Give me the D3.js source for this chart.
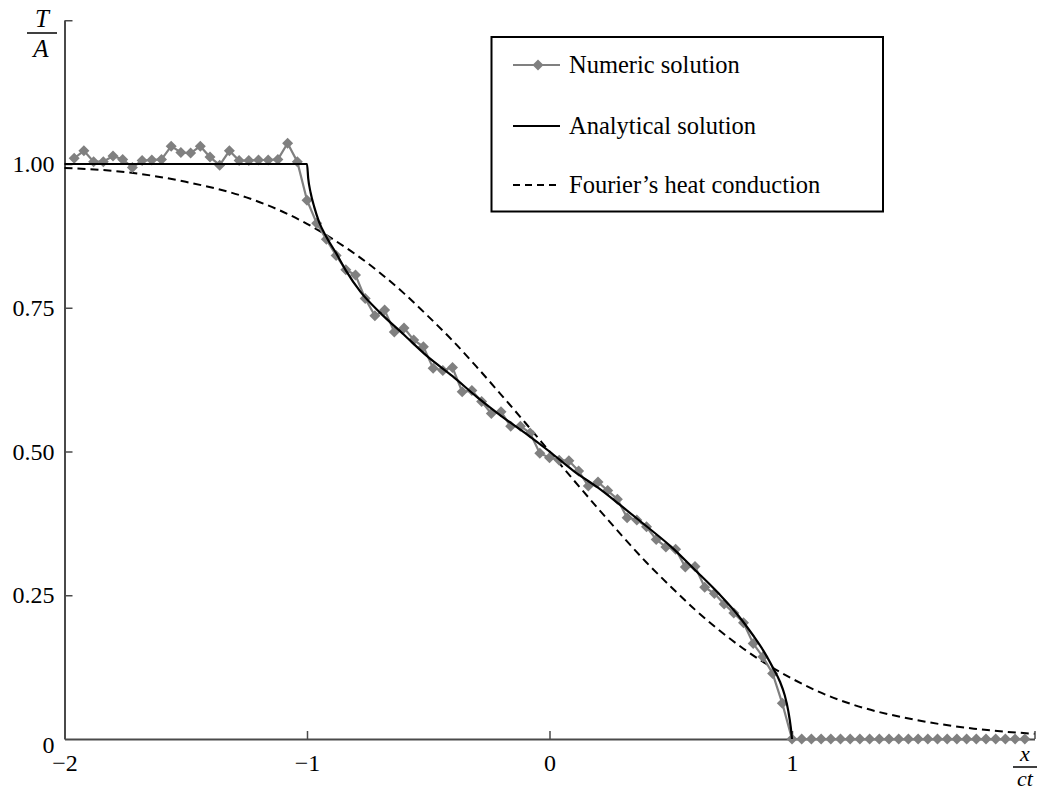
<!DOCTYPE html>
<html>
<head>
<meta charset="utf-8">
<script src="https://cdn.jsdelivr.net/npm/d3@7/dist/d3.min.js"></script>
<style>
  html, body { margin: 0; padding: 0; background: #fff; }
  svg { display: block; }
  text { font-family: "Liberation Serif", "Times New Roman", serif; fill: #000; }
</style>
</head>
<body>
<svg id="chart" width="1039" height="791"></svg>
<script>
// ---------- DATA ----------
const numericX = [
  -1.96,-1.92,-1.88,-1.84,-1.80,-1.76,-1.72,-1.68,-1.64,-1.60,
  -1.56,-1.52,-1.48,-1.44,-1.40,-1.36,-1.32,-1.28,-1.24,-1.20,
  -1.16,-1.12,-1.08,-1.04,-1.00,-0.96,-0.92,-0.88,-0.84,-0.80,
  -0.76,-0.72,-0.68,-0.64,-0.60,-0.56,-0.52,-0.48,-0.44,-0.40,
  -0.36,-0.32,-0.28,-0.24,-0.20,-0.16,-0.12,-0.08,-0.04,0.00,
  0.04,0.08,0.12,0.16,0.20,0.24,0.28,0.32,0.36,0.40,
  0.44,0.48,0.52,0.56,0.60,0.64,0.68,0.72,0.76,0.80,
  0.84,0.88,0.92,0.96,1.00,1.04,1.08,1.12,1.16,1.20,
  1.24,1.28,1.32,1.36,1.40,1.44,1.48,1.52,1.56,1.60,
  1.64,1.68,1.72,1.76,1.80,1.84,1.88,1.92,1.96
];
const numericY = [
  1.010,1.023,1.004,1.004,1.014,1.008,0.994,1.006,1.007,1.008,
  1.031,1.020,1.019,1.031,1.012,0.998,1.023,1.006,1.006,1.007,
  1.007,1.008,1.036,1.004,0.937,0.897,0.869,0.841,0.816,0.807,
  0.766,0.736,0.746,0.708,0.715,0.694,0.682,0.645,0.641,0.646,
  0.604,0.606,0.587,0.566,0.569,0.544,0.544,0.532,0.497,0.489,
  0.485,0.484,0.466,0.440,0.447,0.432,0.417,0.385,0.381,0.369,
  0.347,0.334,0.330,0.299,0.300,0.264,0.253,0.235,0.219,0.202,
  0.166,0.143,0.114,0.062,0.000,0.000,0.000,0.000,0.000,0.000,
  0.000,0.000,0.000,0.000,0.000,0.000,0.000,0.000,0.000,0.000,
  0.000,0.000,0.000,0.000,0.000,0.000,0.000,0.000,0.000
];
const analyticX = [-2.0,-1.0,-0.995,-0.985,-0.97,-0.95,-0.92,-0.88,-0.84,-0.78,-0.70,-0.60,-0.50,-0.40,-0.30,-0.20,-0.10,0.00,
  0.10,0.20,0.30,0.40,0.50,0.60,0.70,0.78,0.84,0.88,0.92,0.95,0.97,0.985,0.995,1.00];
const analyticY = [1.000,1.000,0.975,0.950,0.925,0.899,0.873,0.845,0.815,0.778,0.742,0.703,0.664,0.631,0.595,0.562,0.532,0.500,
  0.466,0.437,0.404,0.370,0.335,0.294,0.252,0.214,0.180,0.155,0.125,0.100,0.076,0.048,0.020,0.000];
const fourierX = [-2.0,-1.75,-1.5,-1.25,-1.1,-1.0,-0.9,-0.8,-0.7,-0.6,-0.5,-0.4,-0.3,-0.2,-0.1,0.0,
  0.1,0.2,0.3,0.4,0.5,0.6,0.7,0.8,0.9,1.0,1.1,1.25,1.5,1.75,2.0];
const fourierY = [0.993,0.986,0.969,0.942,0.917,0.896,0.871,0.843,0.811,0.775,0.735,0.693,0.647,0.599,0.550,0.500,
  0.450,0.401,0.353,0.307,0.265,0.225,0.189,0.157,0.129,0.105,0.084,0.060,0.034,0.018,0.009];

const xTicks = [-2, -1, 0, 1, 2];
const xTickLabels = ["\u22122", "\u22121", "0", "1", ""];
const yTicks = [0, 0.25, 0.5, 0.75, 1.0, 1.25];
const yTickLabels = ["0", "0.25", "0.50", "0.75", "1.00", ""];
const legendLabels = ["Numeric solution", "Analytical solution", "Fourier\u2019s heat conduction"];

// ---------- CHART ----------
const svg = d3.select("#chart");
const x = d3.scaleLinear().domain([-2, 2]).range([64.5, 1034.5]);
const y = d3.scaleLinear().domain([0, 1.25]).range([739, 20.25]);
const axisColor = "#4a4a4a";

// axes
const gx = svg.append("g").attr("transform", `translate(0,${y(0)})`)
  .call(d3.axisBottom(x).tickValues(xTicks).tickSizeInner(-8).tickSizeOuter(0).tickPadding(15)
    .tickFormat((d, i) => xTickLabels[i]));
const gy = svg.append("g").attr("transform", `translate(${x(-2)},0)`)
  .call(d3.axisLeft(y).tickValues(yTicks).tickSizeInner(-8).tickSizeOuter(0).tickPadding(10)
    .tickFormat((d, i) => yTickLabels[i]));
[gx, gy].forEach(g => {
  g.select(".domain").attr("stroke", axisColor).attr("stroke-width", 2);
  g.selectAll(".tick line").attr("stroke", axisColor).attr("stroke-width", 1.5);
  g.selectAll(".tick text").attr("font-family", "Liberation Serif, serif").attr("font-size", 24).attr("fill", "#000");
});
gy.selectAll(".tick").filter(d => d === 0).select("text").attr("dy", "0.55em");
gy.selectAll(".tick").filter(d => d === 0).select("line").remove();
gx.selectAll(".tick").filter(d => d === -2).select("line").remove();

// curves
const fourier = fourierX.map((v, i) => [v, fourierY[i]]);
const numeric = numericX.map((v, i) => [v, numericY[i]]);
const analytic = analyticX.map((v, i) => [v, analyticY[i]]);

svg.append("path").datum(fourier)
  .attr("d", d3.line().x(d => x(d[0])).y(d => y(d[1])).curve(d3.curveMonotoneX))
  .attr("fill", "none").attr("stroke", "#000").attr("stroke-width", 2).attr("stroke-dasharray", "8,5");

svg.append("path").datum(numeric).attr("d", d3.line().x(d => x(d[0])).y(d => y(d[1])))
  .attr("fill", "none").attr("stroke", "#808080").attr("stroke-width", 2.2);
const diamond = "M0,-5.5L5.5,0L0,5.5L-5.5,0Z";
svg.append("g").selectAll("path").data(numeric).join("path")
  .attr("d", diamond).attr("transform", d => `translate(${x(d[0])},${y(d[1])})`)
  .attr("fill", "#808080");

svg.append("path").datum(analytic)
  .attr("d", d3.line().x(d => x(d[0])).y(d => y(d[1])).curve(d3.curveMonotoneX))
  .attr("fill", "none").attr("stroke", "#000").attr("stroke-width", 2.2);

// axis titles
const ya = svg.append("g");
ya.append("text").attr("x", 42).attr("y", 27).attr("text-anchor", "middle")
  .attr("font-size", 25).attr("font-style", "italic").text("T");
ya.append("line").attr("x1", 27).attr("x2", 57).attr("y1", 33).attr("y2", 33).attr("stroke", "#000").attr("stroke-width", 1.5);
ya.append("text").attr("x", 41).attr("y", 57).attr("text-anchor", "middle")
  .attr("font-size", 25).attr("font-style", "italic").text("A");

const xa = svg.append("g");
xa.append("text").attr("x", 1025).attr("y", 761).attr("text-anchor", "middle")
  .attr("font-size", 22).attr("font-style", "italic").text("x");
xa.append("line").attr("x1", 1013).attr("x2", 1037).attr("y1", 767).attr("y2", 767).attr("stroke", "#000").attr("stroke-width", 1.5);
xa.append("text").attr("x", 1025).attr("y", 786).attr("text-anchor", "middle")
  .attr("font-size", 22).attr("font-style", "italic").text("ct");

// legend
const lg = svg.append("g");
lg.append("rect").attr("x", 491.5).attr("y", 37).attr("width", 391.5).attr("height", 174.5)
  .attr("fill", "#fff").attr("stroke", "#000").attr("stroke-width", 2);
const rowsY = [65, 126, 185];
lg.append("line").attr("x1", 513).attr("x2", 560).attr("y1", rowsY[0]).attr("y2", rowsY[0])
  .attr("stroke", "#808080").attr("stroke-width", 2.2);
lg.append("path").attr("d", diamond).attr("transform", `translate(538,${rowsY[0]})`).attr("fill", "#808080");
lg.append("line").attr("x1", 513).attr("x2", 560).attr("y1", rowsY[1]).attr("y2", rowsY[1])
  .attr("stroke", "#000").attr("stroke-width", 2.2);
lg.append("line").attr("x1", 513).attr("x2", 560).attr("y1", rowsY[2]).attr("y2", rowsY[2])
  .attr("stroke", "#000").attr("stroke-width", 2).attr("stroke-dasharray", "7,5");
lg.selectAll("text.lab").data(legendLabels).join("text").attr("class", "lab")
  .attr("x", 569).attr("y", (d, i) => rowsY[i] + 8).attr("font-size", 24.5).text(d => d);
</script>
</body>
</html>
